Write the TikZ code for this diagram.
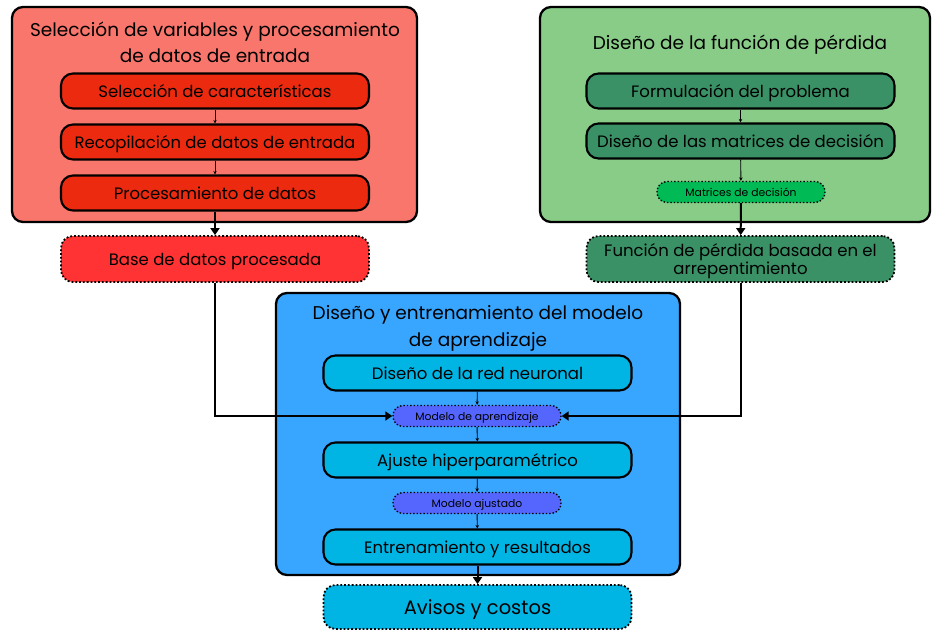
\documentclass[tikz,border=0pt]{standalone}
\usepackage{fontspec}
\setmainfont{Poppins}
\usetikzlibrary{arrows.meta}
\definecolor{redout}{RGB}{248,118,108}
\definecolor{redin}{RGB}{236,42,16}
\definecolor{redres}{RGB}{255,51,51}
\definecolor{greenout}{RGB}{136,204,136}
\definecolor{greenin}{RGB}{58,145,102}
\definecolor{greenres}{RGB}{0,187,85}
\definecolor{blueout}{RGB}{56,166,255}
\definecolor{bluein}{RGB}{0,180,228}
\definecolor{bluemod}{RGB}{85,102,255}
\begin{document}
\begin{tikzpicture}[x=1pt,y=-1pt,
  outerbox/.style={draw=black, line width=2.3pt, rounded corners=11pt, inner sep=0pt},
  titletext/.style={font=\fontsize{18.5}{25.5}\selectfont, align=center, inner sep=0pt},
  innerbox/.style={draw=black, line width=2.1pt, rounded corners=12pt, minimum width=308pt, minimum height=35pt, inner sep=0pt, font=\fontsize{16.5}{18}\selectfont, align=center, text height=16.5pt, text depth=3.3pt},
  resboxbase/.style={draw=black, line width=1.8pt, dotted, rounded corners=12pt, minimum width=308pt, minimum height=46pt, inner sep=0pt, font=\fontsize{16.5}{18}\selectfont, align=center},
  resbox/.style={resboxbase, text height=16.5pt, text depth=3.3pt},
  smallbox/.style={draw=black, line width=1.4pt, dotted, rounded corners=10pt, minimum width=168pt, minimum height=21pt, inner sep=0pt, font=\fontsize{10.8}{12}\selectfont, text height=10.5pt, text depth=2.2pt},
  thinarrow/.style={draw=black, line width=0.9pt, -{Stealth[length=3.5pt,width=3.5pt]}},
  thickarrow/.style={draw=black, line width=2pt, -{Triangle[length=7pt,width=9pt]}}
]
\useasboundingbox (0,0) rectangle (932,630);
% outer containers
\node[outerbox, fill=redout, minimum width=405pt, minimum height=215pt] (redc) at (214.5,114.5) {};
\node[outerbox, fill=greenout, minimum width=390pt, minimum height=215pt] (greenc) at (735,114.5) {};
\node[outerbox, fill=blueout, minimum width=404pt, minimum height=282pt] (bluec) at (478,434) {};
% titles
\node[titletext] (redt) at (215,42.5) {Selección de variables y procesamiento\\de datos de entrada};
\node[titletext] (greent) at (740,45) {Diseño de la función de pérdida};
\node[titletext, font=\fontsize{18.5}{27}\selectfont] (bluet) at (478,328) {Diseño y entrenamiento del modelo\\de aprendizaje};
% red column
\node[innerbox, fill=redin] (sel) at (215,91) {Selección de características};
\node[innerbox, fill=redin] (rec) at (215,142) {Recopilación de datos de entrada};
\node[innerbox, fill=redin] (proc) at (215,193) {Procesamiento de datos};
\node[resbox, fill=redres] (base) at (215,259) {Base de datos procesada};
% green column
\node[innerbox, fill=greenin] (form) at (740.5,91) {Formulación del problema};
\node[innerbox, fill=greenin] (dmat) at (740.5,141) {Diseño de las matrices de decisión};
\node[smallbox, fill=greenres] (mat) at (741,192) {Matrices de decisión};
\node[resboxbase, fill=greenin] (fun) at (740.5,259) {\rule{0pt}{17pt}Función de pérdida basada en el\\arrepentimiento};
% blue column
\node[innerbox, fill=bluein] (red) at (477.5,373) {Diseño de la red neuronal};
\node[smallbox, fill=bluemod] (moda) at (477,416) {Modelo de aprendizaje};
\node[innerbox, fill=bluein] (ajus) at (477.5,460) {Ajuste hiperparamétrico};
\node[smallbox, fill=bluemod] (modj) at (477,503) {Modelo ajustado};
\node[innerbox, fill=bluein] (entr) at (477.5,547) {Entrenamiento y resultados};
\node[resbox, fill=bluein, minimum height=44pt, font=\fontsize{19.5}{22}\selectfont, text height=19.2pt, text depth=3.9pt] (avis) at (477.5,607) {Avisos y costos};
% connectors
\draw[thinarrow] (sel) -- (rec);
\draw[thinarrow] (rec) -- (proc);
\draw[thickarrow] (proc) -- (base);
\draw[thinarrow] (form) -- (dmat);
\draw[thinarrow] (dmat) -- (mat);
\draw[thickarrow] (mat) -- (fun);
\draw[thinarrow] (red) -- (moda);
\draw[thinarrow] (moda) -- (ajus);
\draw[thinarrow] (ajus) -- (modj);
\draw[thinarrow] (modj) -- (entr);
\draw[thickarrow] (entr) -- (avis);
\draw[thickarrow] (base.south) |- (moda.west);
\draw[thickarrow] (fun.south) |- (moda.east);
\end{tikzpicture}
\end{document}
